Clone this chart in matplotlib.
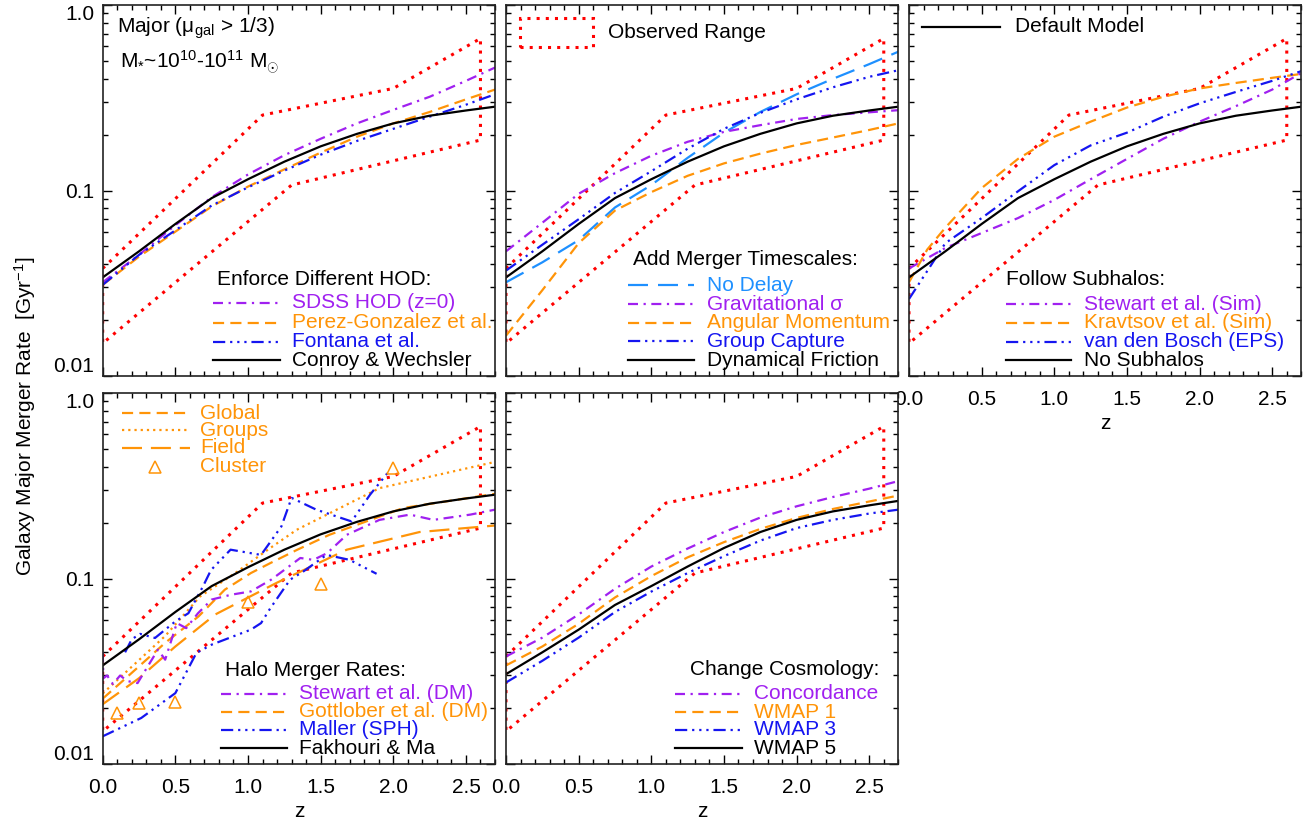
import numpy as np
import matplotlib
matplotlib.use("Agg")
import matplotlib.pyplot as plt
from matplotlib.patches import Rectangle
from matplotlib.ticker import MultipleLocator, LogLocator, NullFormatter, FixedLocator

plt.rcParams['font.family'] = ['Liberation Sans', 'DejaVu Sans']
plt.rcParams['mathtext.fontset'] = 'custom'
plt.rcParams['mathtext.rm'] = 'Liberation Sans'
plt.rcParams['mathtext.it'] = 'Liberation Sans:italic'
plt.rcParams['font.size'] = 15

# ---------------------------------------------------------------
# Data (merger rate in Gyr^-1 vs redshift z)
# ---------------------------------------------------------------
z_grid = [0.0, 0.25, 0.5, 0.75, 1.0, 1.25, 1.5, 1.75, 2.0, 2.25, 2.5, 2.7]

default_model = [0.034, 0.047, 0.066, 0.091, 0.115, 0.143, 0.173, 0.202, 0.230, 0.253, 0.270, 0.283]

# observed range (red dotted box)
obs_upper_z = [0.0, 1.1, 2.0, 2.6]
obs_upper = [0.038, 0.255, 0.355, 0.66]
obs_lower_z = [0.0, 1.3, 2.6]
obs_lower = [0.015, 0.107, 0.187]

# panel 1: enforce different HOD
sdss_hod = [0.032, 0.045, 0.065, 0.092, 0.122, 0.155, 0.190, 0.230, 0.272, 0.32, 0.39, 0.46]
perez_gonzalez = [0.031, 0.044, 0.060, 0.082, 0.105, 0.130, 0.160, 0.195, 0.230, 0.265, 0.310, 0.350]
fontana = [0.031, 0.045, 0.061, 0.083, 0.104, 0.128, 0.156, 0.185, 0.215, 0.250, 0.290, 0.330]

# panel 2: merger timescales
no_delay = [0.032, 0.041, 0.054, 0.081, 0.107, 0.150, 0.205, 0.265, 0.330, 0.400, 0.480, 0.560]
grav_sigma = [0.047, 0.067, 0.096, 0.124, 0.154, 0.183, 0.207, 0.225, 0.243, 0.255, 0.264, 0.271]
ang_momentum = [0.0165, 0.029, 0.052, 0.078, 0.098, 0.120, 0.140, 0.158, 0.176, 0.193, 0.212, 0.230]
group_capture = [0.037, 0.051, 0.070, 0.097, 0.127, 0.168, 0.215, 0.262, 0.310, 0.360, 0.410, 0.445]

# panel 3: subhalos
stewart_sim = [0.038, 0.049, 0.059, 0.071, 0.089, 0.115, 0.148, 0.190, 0.235, 0.285, 0.350, 0.430]
kravtsov_z = [0.0, 0.125, 0.25, 0.5, 0.75, 1.0, 1.25, 1.5, 1.75, 2.0, 2.25, 2.5, 2.7]
kravtsov_sim = [0.032, 0.048, 0.063, 0.103, 0.148, 0.195, 0.235, 0.280, 0.320, 0.355, 0.380, 0.405, 0.425]
vdbosch_eps = [0.026, 0.052, 0.071, 0.099, 0.137, 0.175, 0.205, 0.250, 0.295, 0.340, 0.390, 0.440]

# panel 4: halo merger rates
stewart_dm_z = [0.0, 0.005, 0.03, 0.07, 0.12, 0.17, 0.24, 0.31, 0.38, 0.43, 0.51, 0.575, 0.656,
                0.75, 0.885, 1.02, 1.16, 1.30, 1.36, 1.45, 1.545, 1.68, 1.905, 2.115, 2.276, 2.53, 2.7]
stewart_dm = [0.040, 0.029, 0.030, 0.027, 0.030, 0.028, 0.0273, 0.0336, 0.0413, 0.0365, 0.0575, 0.054, 0.065,
              0.077, 0.0818, 0.0852, 0.0986, 0.119, 0.129, 0.126, 0.137, 0.172, 0.207, 0.221, 0.207, 0.221, 0.235]
global_z = [0.0, 0.2, 0.43, 0.66, 0.84, 1.02, 1.153, 1.34, 1.56, 2.07, 2.7]
global_rate = [0.0225, 0.031, 0.045, 0.0625, 0.087, 0.107, 0.121, 0.143, 0.172, 0.240, 0.286]
groups_z = [0.0, 0.43, 0.67, 0.92, 1.153, 1.335, 1.905, 2.7]
groups_rate = [0.024, 0.049, 0.080, 0.108, 0.146, 0.183, 0.307, 0.425]
field_z = [0.0, 0.25, 0.5, 0.775, 1.08, 1.2, 1.68, 2.18, 2.7]
field_rate = [0.021, 0.029, 0.043, 0.064, 0.085, 0.095, 0.143, 0.178, 0.193]
cluster_z = [0.1, 0.25, 0.5, 1.0, 1.5, 2.0]
cluster_rate = [0.0188, 0.0212, 0.0217, 0.075, 0.0936, 0.394]
maller_lo_z = [0.0, 0.265, 0.5, 0.645, 0.75, 1.02, 1.09, 1.153, 1.29, 1.38, 1.54, 1.70, 1.885]
maller_lo = [0.0141, 0.0177, 0.0241, 0.0397, 0.044, 0.053, 0.0575, 0.069, 0.0986, 0.109, 0.134, 0.126, 0.106]
maller_hi_z = [0.154, 0.2, 0.257, 0.36, 0.5, 0.59, 0.69, 0.745, 0.88, 1.09, 1.23, 1.30, 1.47, 1.713, 1.84, 1.96]
maller_hi = [0.040, 0.047, 0.0503, 0.0478, 0.0587, 0.065, 0.0906, 0.111, 0.143, 0.134, 0.191, 0.272, 0.235,
             0.203, 0.283, 0.37]

# panel 5: cosmology
concordance = [0.038, 0.048, 0.064, 0.088, 0.116, 0.145, 0.178, 0.213, 0.245, 0.275, 0.305, 0.335]
wmap1 = [0.034, 0.043, 0.057, 0.079, 0.103, 0.130, 0.157, 0.185, 0.212, 0.237, 0.260, 0.280]
wmap3 = [0.0275, 0.036, 0.048, 0.066, 0.085, 0.107, 0.132, 0.160, 0.187, 0.207, 0.224, 0.235]
wmap5 = [0.0305, 0.040, 0.053, 0.072, 0.091, 0.116, 0.146, 0.178, 0.207, 0.230, 0.248, 0.262]

# ---------------------------------------------------------------
# Line styles (IDL-like)
# ---------------------------------------------------------------
PURPLE = '#A020F0'
ORANGE = '#FF9408'
BLUE = '#1515F0'
LBLUE = '#1E90FF'
LW = 1.6

s_black = dict(color='black', lw=LW, ls='-')
s_purple = dict(color=PURPLE, lw=LW, dashes=(4.5, 2.5, 1, 2.5))
s_orange = dict(color=ORANGE, lw=LW, dashes=(5, 2.8))
s_blue = dict(color=BLUE, lw=LW, dashes=(5.5, 2.2, 1, 2.2, 1, 2.2, 1, 2.2))
s_lblue = dict(color=LBLUE, lw=LW, dashes=(9, 4.5))
s_odot = dict(color=ORANGE, lw=LW, dashes=(1, 1.8))
s_olong = dict(color=ORANGE, lw=LW, dashes=(9, 4))
s_red = dict(color='red', lw=2.2, dashes=(1, 2), dash_capstyle='butt')

W, H = 1315, 825
fig = plt.figure(figsize=(W / 100, H / 100), dpi=100)


def make_axes(left_px, top_px, xlab=False, ylab=False):
    ax = fig.add_axes([left_px / W, 1 - (top_px + 371) / H, 392.3 / W, 371 / H])
    ax.set_xlim(0, 2.7)
    ax.set_yscale('log')
    ax.set_ylim(0.01, 1.0)
    ax.xaxis.set_major_locator(MultipleLocator(0.5))
    ax.xaxis.set_minor_locator(MultipleLocator(0.1))
    ax.yaxis.set_major_locator(FixedLocator([0.01, 0.1, 1.0]))
    ax.yaxis.set_minor_locator(LogLocator(base=10, subs=np.arange(2, 10)))
    ax.yaxis.set_minor_formatter(NullFormatter())
    ax.set_yticklabels(['0.01', '0.1', '1.0'])
    ax.set_xticks([0, 0.5, 1.0, 1.5, 2.0, 2.5])
    ax.set_xticklabels(['0.0', '0.5', '1.0', '1.5', '2.0', '2.5'])
    ax.tick_params(which='both', direction='in', top=True, right=True, width=1.0,
                   labelsize=15, colors='black')
    ax.tick_params(which='major', length=6.5)
    ax.tick_params(which='minor', length=3.3)
    ax.tick_params(axis='x', pad=10, labelbottom=xlab)
    ax.tick_params(axis='y', pad=6, labelleft=ylab)
    if ylab:
        lbls = ax.get_yticklabels()
        lbls[0].set_va('bottom')
        lbls[2].set_va('top')
    if xlab:
        ax.set_xlabel('z', fontsize=15, labelpad=4)
    for sp in ax.spines.values():
        sp.set_linewidth(1.2)
        sp.set_color('#222222')
    return ax


def observed(ax):
    oz = obs_upper_z + obs_lower_z[::-1] + obs_upper_z[:1]
    orr = obs_upper + obs_lower[::-1] + obs_upper[:1]
    ax.plot(oz, orr, **s_red)


def legend_rows(ax, x0, x1, xt, ys, entries, title=None, xtitle=None, ytitle=None):
    if title is not None:
        ax.text(xtitle, ytitle, title, transform=ax.transAxes, va='center', ha='left',
                fontsize=15, color='black')
    for y, (label, style) in zip(ys, entries):
        if style is not None:
            ax.plot([x0, x1], [y, y], transform=ax.transAxes, clip_on=False, **style)
        ax.text(xt, y, label, transform=ax.transAxes, va='center', ha='left',
                fontsize=15, color=style['color'] if style else ORANGE)


# ---------------------------------------------------------------
# Panel 1: HOD
# ---------------------------------------------------------------
ax1 = make_axes(102.7, 5, ylab=True)
observed(ax1)
ax1.plot(z_grid, sdss_hod, **s_purple)
ax1.plot(z_grid, perez_gonzalez, **s_orange)
ax1.plot(z_grid, fontana, **s_blue)
ax1.plot(z_grid, default_model, **s_black)
ax1.text(0.036, 0.938, 'Major (μ$_{\\rm gal}$ > 1/3)', transform=ax1.transAxes, va='center', fontsize=15)
ax1.text(0.044, 0.844, r'M$_{*}$~10$^{10}$-10$^{11}$ M$_{\odot}$', transform=ax1.transAxes,
         va='center', fontsize=15)
legend_rows(ax1, 0.281, 0.452, 0.4825, [0.197, 0.143, 0.092, 0.043],
            [('SDSS HOD (z=0)', s_purple), ('Perez-Gonzalez et al.', s_orange),
             ('Fontana et al.', s_blue), ('Conroy & Wechsler', s_black)],
            title='Enforce Different HOD:', xtitle=0.291, ytitle=0.259)

# ---------------------------------------------------------------
# Panel 2: merger timescales
# ---------------------------------------------------------------
ax2 = make_axes(506, 5)
observed(ax2)
ax2.plot(z_grid, no_delay, **s_lblue)
ax2.plot(z_grid, grav_sigma, **s_purple)
ax2.plot(z_grid, ang_momentum, **s_orange)
ax2.plot(z_grid, group_capture, **s_blue)
ax2.plot(z_grid, default_model, **s_black)
ax2.add_patch(Rectangle((0.036, 0.887), 0.186, 0.078, transform=ax2.transAxes, fill=False,
                        ec='red', lw=2.2, ls=(0, (1, 2))))
ax2.text(0.26, 0.925, 'Observed Range', transform=ax2.transAxes, va='center', fontsize=15)
legend_rows(ax2, 0.311, 0.48, 0.513, [0.245, 0.194, 0.143, 0.094, 0.043],
            [('No Delay', s_lblue), ('Gravitational σ', s_purple), ('Angular Momentum', s_orange),
             ('Group Capture', s_blue), ('Dynamical Friction', s_black)],
            title='Add Merger Timescales:', xtitle=0.324, ytitle=0.313)

# ---------------------------------------------------------------
# Panel 3: subhalos
# ---------------------------------------------------------------
ax3 = make_axes(909, 5, xlab=True)
observed(ax3)
ax3.plot(z_grid, stewart_sim, **s_purple)
ax3.plot(kravtsov_z, kravtsov_sim, **s_orange)
ax3.plot(z_grid, vdbosch_eps, **s_blue)
ax3.plot(z_grid, default_model, **s_black)
ax3.plot([0.032, 0.232], [0.942, 0.942], transform=ax3.transAxes, **s_black)
ax3.text(0.27, 0.942, 'Default Model', transform=ax3.transAxes, va='center', fontsize=15)
legend_rows(ax3, 0.247, 0.414, 0.446, [0.194, 0.143, 0.092, 0.043],
            [('Stewart et al. (Sim)', s_purple), ('Kravtsov et al. (Sim)', s_orange),
             ('van den Bosch (EPS)', s_blue), ('No Subhalos', s_black)],
            title='Follow Subhalos:', xtitle=0.247, ytitle=0.259)

# ---------------------------------------------------------------
# Panel 4: halo merger rates
# ---------------------------------------------------------------
ax4 = make_axes(102.7, 393, xlab=True, ylab=True)
observed(ax4)
ax4.plot(groups_z, groups_rate, **s_odot)
ax4.plot(field_z, field_rate, **s_olong)
ax4.plot(global_z, global_rate, **s_orange)
ax4.plot(stewart_dm_z, stewart_dm, **s_purple)
ax4.plot(maller_lo_z, maller_lo, **s_blue)
ax4.plot(maller_hi_z, maller_hi, **s_blue)
ax4.plot(z_grid, default_model, **s_black)
ax4.plot(cluster_z, cluster_rate, ls='none', marker='^', ms=9, mfc='none', mec=ORANGE, mew=1.1)
legend_rows(ax4, 0.048, 0.222, 0.248, [0.945, 0.90, 0.853],
            [('Global', s_orange), ('Groups', s_odot), ('Field', s_olong)])
ax4.plot([0.133], [0.801], transform=ax4.transAxes, ls='none', marker='^', ms=9, mfc='none',
         mec=ORANGE, mew=1.1)
ax4.text(0.248, 0.801, 'Cluster', transform=ax4.transAxes, va='center', fontsize=15, color=ORANGE)
legend_rows(ax4, 0.301, 0.47, 0.501, [0.19, 0.141, 0.092, 0.042],
            [('Stewart et al. (DM)', s_purple), ('Gottlober et al. (DM)', s_orange),
             ('Maller (SPH)', s_blue), ('Fakhouri & Ma', s_black)],
            title='Halo Merger Rates:', xtitle=0.312, ytitle=0.253)

# ---------------------------------------------------------------
# Panel 5: cosmology
# ---------------------------------------------------------------
ax5 = make_axes(506, 393, xlab=True)
observed(ax5)
ax5.plot(z_grid, concordance, **s_purple)
ax5.plot(z_grid, wmap1, **s_orange)
ax5.plot(z_grid, wmap3, **s_blue)
ax5.plot(z_grid, wmap5, **s_black)
legend_rows(ax5, 0.431, 0.601, 0.631, [0.19, 0.139, 0.092, 0.042],
            [('Concordance', s_purple), ('WMAP 1', s_orange), ('WMAP 3', s_blue), ('WMAP 5', s_black)],
            title='Change Cosmology:', xtitle=0.468, ytitle=0.256)

fig.text(0.019, 0.496, r'Galaxy Major Merger Rate  [Gyr$^{-1}$]', rotation=90,
         va='center', ha='center', fontsize=15)

fig.savefig('out.png', dpi=100)
